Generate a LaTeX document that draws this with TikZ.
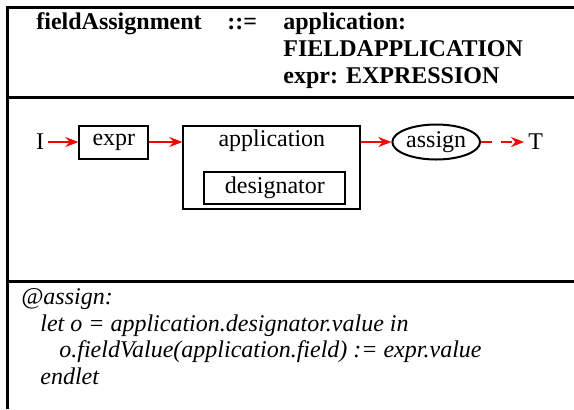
\documentclass[tikz,border=0pt]{standalone}
\usepackage{fontspec}
\setmainfont{Liberation Serif}
\usetikzlibrary{arrows.meta,positioning,shapes.geometric}

\begin{document}
\fontsize{12}{13.5}\selectfont
\begin{tikzpicture}[x=0.5pt,y=-0.5pt,node distance=15pt,
                >={Stealth[length=6.5pt,width=5pt]},
                txt/.style={inner sep=0pt},
                box/.style={draw,line width=1pt,inner sep=0pt},
                flow/.style={->,red,line width=1pt},
                rule/.style={line width=1.5pt}]
                \useasboundingbox (0,0) rectangle (574,409);
                \draw[rule] (574,7.5) -- (7.5,7.5) -- (7.5,409);
                \draw[rule] (7.5,97) -- (574,97);
                \draw[rule] (7.5,281.5) -- (574,281.5);
                \node[txt,anchor=base west,font=\bfseries](lhs) at (36,29) {fieldAssignment};
                \node[txt,anchor=base west,font=\bfseries](def) at (227,29) {::=};
                \node[txt,anchor=base west,font=\bfseries,align=left](rhs) at (283,83)
                    {application:\\FIELDAPPLICATION\\expr: EXPRESSION};
                \node[txt,inner sep=2pt](I) at (40,142) {I};
                \node[box,minimum width=34.5pt,minimum height=16.5pt](expr) [right= of I]{expr};
                \node[box,minimum width=88.5pt,minimum height=41.5pt](app) [right=16.5pt of expr.north east,anchor=north west]{};
                \node[txt](apptitle) [below=2.3pt of app.north]{application};
                \node[box,minimum width=70.5pt,minimum height=16pt](desig) [above=2.5pt of app.south,xshift=1.5pt]{designator};
                \coordinate (appout) at (app.east |- expr.east);
                \node[ellipse,draw,line width=1pt,inner sep=0.5pt,minimum width=43pt,minimum height=17.5pt](assign) [right= of appout]{assign};
                \node[txt,inner sep=2pt](T) [right=21.5pt of assign]{T};
                \path[flow]
                (I) edge (expr)
                (expr) edge (expr -| app.west)
                (appout) edge (assign)
                (assign) edge[dash pattern=on 5.5pt off 4.5pt] (T);
                \node[txt,anchor=base west,align=left,font=\itshape\fontsize{12}{13.2}\selectfont](code) at (21,384)
                    {@assign:\\
                     \hspace*{9.5pt}let o = application.designator.value in\\
                     \hspace*{19pt}o.fieldValue(application.field) := expr.value\\
                     \hspace*{9.5pt}endlet};
            \end{tikzpicture}
\end{document}
